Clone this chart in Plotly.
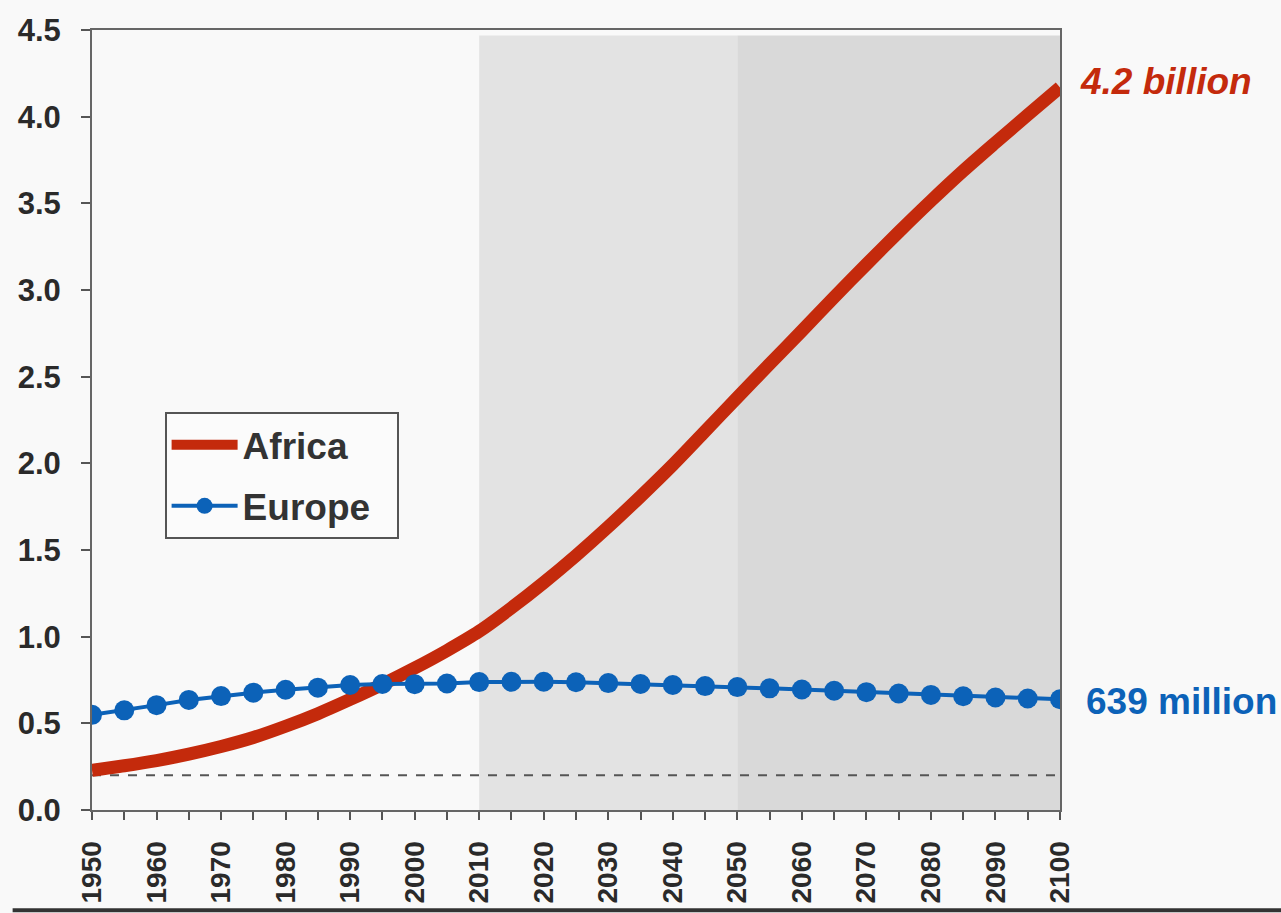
import plotly.graph_objects as go

# ---- data (billions) ----
years = list(range(1950, 2101, 5))
africa = [0.229, 0.255, 0.285, 0.322, 0.366, 0.418, 0.483, 0.556, 0.638, 0.725,
          0.819, 0.920, 1.031, 1.166, 1.312, 1.468, 1.634, 1.809, 1.991, 2.185,
          2.380, 2.573, 2.764, 2.958, 3.148, 3.334, 3.514, 3.687, 3.850, 4.010, 4.168]
europe = [0.549, 0.575, 0.605, 0.635, 0.657, 0.677, 0.694, 0.706, 0.721, 0.727,
          0.726, 0.730, 0.738, 0.740, 0.740, 0.737, 0.732, 0.727, 0.721, 0.715,
          0.709, 0.702, 0.695, 0.688, 0.680, 0.672, 0.664, 0.656, 0.649, 0.643, 0.639]
series_names = ["Africa", "Europe"]
end_labels = ["4.2 billion", "639 million"]
shade_periods = [(2010, 2050), (2050, 2100)]
threshold = 0.2

RED = "#c42a0c"
BLUE = "#0c62b8"
FONT = "Liberation Sans, Arial, sans-serif"
BG = "#f9f9f9"
PAD = "\u00a0\u00a0"

fig = go.Figure()

fig.add_trace(go.Scatter(x=years, y=africa, name="<b>" + series_names[0] + "</b>" + PAD, mode="lines",
                         legendgroup="a",
                         line=dict(color=RED, width=13, shape="spline", smoothing=0.8)))
fig.add_trace(go.Scatter(x=years, y=europe, name="<b>" + series_names[1] + "</b>" + PAD, mode="lines+markers",
                         legendgroup="b",
                         line=dict(color=BLUE, width=4),
                         marker=dict(color=BLUE, size=20)))

shapes = []
shade_cols = ["#e3e3e3", "#d9d9d9"]
for (a, b), c in zip(shade_periods, shade_cols):
    shapes.append(dict(type="rect", xref="x", yref="paper", x0=a, x1=b, y0=0, y1=0.993,
                       fillcolor=c, line=dict(width=0), layer="below"))
shapes.append(dict(type="line", xref="x", yref="y", x0=years[0], x1=years[-1],
                   y0=threshold, y1=threshold, line=dict(color="#555555", width=2, dash="dash"),
                   layer="below"))
# bottom frame line
shapes.append(dict(type="line", xref="paper", yref="paper", x0=-0.082, x1=1.23,
                   y0=-0.1285, y1=-0.1285, line=dict(color="#333333", width=4)))
fig.update_layout(shapes=shapes)

fig.add_annotation(x=years[-1], y=africa[-1], xref="x", yref="y", text="<b><i>" + end_labels[0] + "</i></b>",
                   showarrow=False, xanchor="left", xshift=18, yshift=6,
                   font=dict(family=FONT, size=37, color=RED))
fig.add_annotation(x=years[-1], y=europe[-1], xref="x", yref="y", text="<b>" + end_labels[1] + "</b>",
                   showarrow=False, xanchor="left", xshift=24, yshift=-2,
                   font=dict(family=FONT, size=37, color=BLUE))

fig.update_layout(
    width=1281, height=913,
    margin=dict(l=92, r=221, t=30, b=103, autoexpand=False),
    paper_bgcolor=BG, plot_bgcolor=BG,
    font=dict(family=FONT, color="#2a2a2a"),
    showlegend=True,
    legend=dict(x=0.075, y=0.51, xanchor="left", yanchor="top",
                bgcolor="#fbfbfb", bordercolor="#555555", borderwidth=2,
                font=dict(family=FONT, size=37, color="#333333"),
                itemwidth=66, tracegroupgap=10),
)

fig.update_xaxes(range=[1950, 2100], tickmode="array", tickvals=list(range(1950, 2101, 10)),
                 ticktext=["<b>%d</b>" % y for y in range(1950, 2101, 10)],
                 tickangle=-90, ticks="outside", ticklen=8, tickwidth=2, tickcolor="#555555",
                 minor=dict(tickmode="array", tickvals=list(range(1955, 2100, 10)),
                            ticks="outside", ticklen=8, tickwidth=2, tickcolor="#555555"),
                 showline=True, linecolor="#666666", linewidth=2, mirror=True,
                 showgrid=False, zeroline=False, ticklabelstandoff=10, automargin=False,
                 tickfont=dict(family=FONT, size=28, color="#2a2a2a"))
ytv = [i * 0.5 for i in range(10)]
fig.update_yaxes(range=[0, 4.5], tickmode="array", tickvals=ytv,
                 ticktext=["<b>%.1f</b>" % v for v in ytv],
                 ticks="outside", ticklen=9, tickwidth=2, tickcolor="#555555",
                 showline=True, linecolor="#666666", linewidth=2, mirror=True,
                 showgrid=False, zeroline=False, ticklabelstandoff=14, automargin=False,
                 tickfont=dict(family=FONT, size=31, color="#2a2a2a"))

fig.write_html("out.html", config={"displayModeBar": False},
               post_script="document.body.style.margin='0';document.body.style.background='%s';" % BG)
